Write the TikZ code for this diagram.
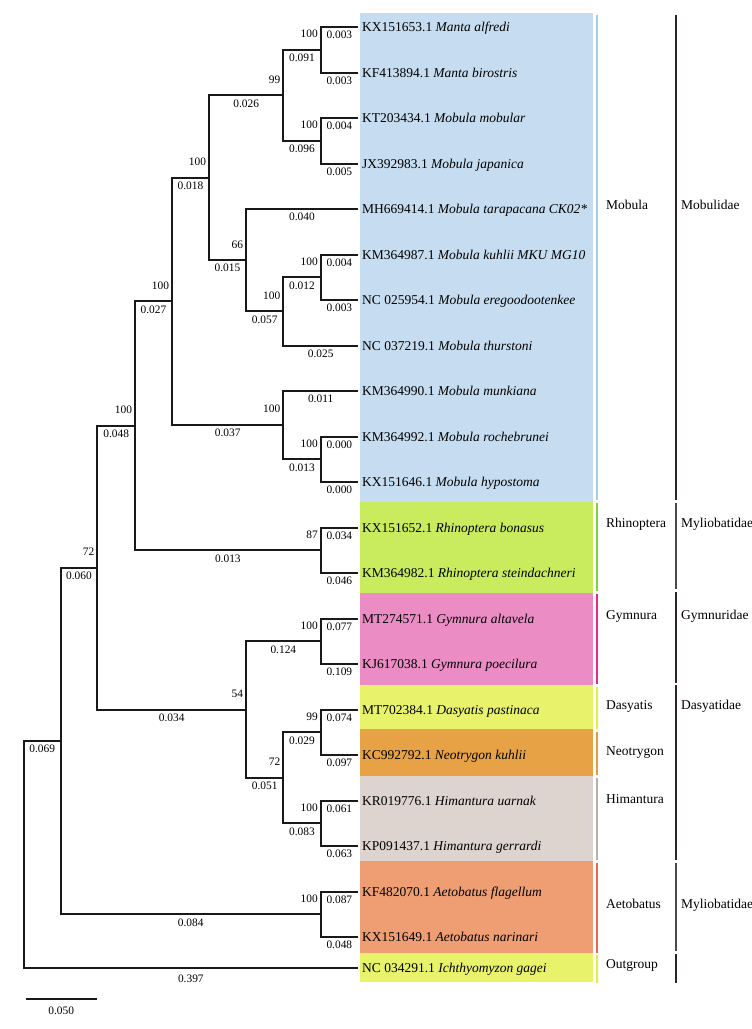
\documentclass[tikz,border=0pt]{standalone}
\usepackage{fontspec}
\setmainfont{Liberation Serif}
\newfontfamily\treefont{Liberation Serif}
\usepackage{tikz}

\definecolor{mobbg}{HTML}{C6DCF0}
\definecolor{mobbar}{HTML}{A8CCEE}
\definecolor{rhibg}{HTML}{C8EC5E}
\definecolor{rhibar}{HTML}{7ED23A}
\definecolor{gymbg}{HTML}{EB8DC4}
\definecolor{gymbar}{HTML}{E8288A}
\definecolor{dasbg}{HTML}{E8F26A}
\definecolor{dasbar}{HTML}{E0F040}
\definecolor{neobg}{HTML}{E8A246}
\definecolor{neobar}{HTML}{E89A40}
\definecolor{himbg}{HTML}{DDD3CF}
\definecolor{himbar}{HTML}{B8B0AC}
\definecolor{aetbg}{HTML}{EE9E72}
\definecolor{aetbar}{HTML}{EE6650}
\definecolor{famline}{HTML}{2E2626}

\tikzset{
  branch/.style={line width=2pt, draw=black!90},
  taxon/.style={anchor=base west, inner sep=0pt, xshift=4pt, yshift=-4.6pt,
    font=\treefont\fontsize{13.5}{14}\selectfont},
  group/.style={anchor=base west, inner sep=0pt, yshift=-4.6pt,
    font=\treefont\fontsize{13.5}{14}\selectfont},
  boot/.style={anchor=south east, inner sep=0pt, xshift=-2pt, yshift=11pt,
    font=\treefont\fontsize{11.4}{12}\selectfont},
  blen/.style={anchor=north, inner sep=0pt, yshift=-3.2pt,
    font=\treefont\fontsize{11.4}{12}\selectfont},
}

\begin{document}
\begin{tikzpicture}[x=1pt, y=-1pt]
\useasboundingbox (0,0) rectangle (752,1029);

% coloured blocks behind the taxa
\fill[mobbg] (360,13) rectangle (593,502);
\fill[rhibg] (360,502) rectangle (593,593);
\fill[gymbg] (360,593) rectangle (593,685);
\fill[dasbg] (360,685) rectangle (593,729);
\fill[neobg] (360,729) rectangle (593,776);
\fill[himbg] (360,776) rectangle (593,861);
\fill[aetbg] (360,861) rectangle (593,953);
\fill[dasbg] (360,953) rectangle (593,982);

% genus bars
\draw[mobbar, line width=2pt] (597,15) -- (597,500);
\draw[rhibar, line width=2pt] (597,503) -- (597,591);
\draw[gymbar, line width=2pt] (597,594) -- (597,684);
\draw[dasbar, line width=2pt] (597,687) -- (597,729);
\draw[neobar, line width=2pt] (597,732) -- (597,775);
\draw[himbar, line width=2pt] (597,778) -- (597,860);
\draw[aetbar, line width=2pt] (597,863) -- (597,953);
\draw[dasbar, line width=2pt] (597,955) -- (597,983);

% family bars
\draw[famline, line width=2.5pt] (676,15) -- (676,500);
\draw[famline!85, line width=2.5pt] (676,503) -- (676,589);
\draw[famline, line width=2.5pt] (676,592) -- (676,683);
\draw[famline, line width=2.5pt] (676,685) -- (676,860);
\draw[famline!85, line width=2.5pt] (676,863) -- (676,951);
\draw[famline, line width=2.5pt] (676,954) -- (676,983);

% genus and family names
\node[group] (gMob) at (606,205) {Mobula};
\node[group] (gRhi) at (606,523) {Rhinoptera};
\node[group] (gGym) at (606,615) {Gymnura};
\node[group] (gDas) at (606,705) {Dasyatis};
\node[group] (gNeo) at (606,751) {Neotrygon};
\node[group] (gHim) at (606,799) {Himantura};
\node[group] (gAet) at (606,904) {Aetobatus};
\node[group] (gOut) at (606,964) {Outgroup};
\node[group] (fMob) at (681,205) {Mobulidae};
\node[group] (fMyl) at (681,523) {Myliobatidae};
\node[group] (fGym) at (681,615) {Gymnuridae};
\node[group] (fDas) at (681,705) {Dasyatidae};
\node[group] (fMyl2) at (681,904) {Myliobatidae};

% tips
\coordinate (l1) at (358,27);
\coordinate (l2) at (358,72.5);
\coordinate (l3) at (358,118);
\coordinate (l4) at (358,163.5);
\coordinate (l5) at (358,209);
\coordinate (l6) at (358,254.5);
\coordinate (l7) at (358,300);
\coordinate (l8) at (358,345.5);
\coordinate (l9) at (358,391);
\coordinate (l10) at (358,436.5);
\coordinate (l11) at (358,482);
\coordinate (l12) at (358,527.5);
\coordinate (l13) at (358,573);
\coordinate (l14) at (358,618.5);
\coordinate (l15) at (358,664);
\coordinate (l16) at (358,709.5);
\coordinate (l17) at (358,755);
\coordinate (l18) at (358,800.5);
\coordinate (l19) at (358,846);
\coordinate (l20) at (358,891.5);
\coordinate (l21) at (358,937);
\coordinate (l22) at (358,967.5);

% internal nodes
\coordinate (mantas) at (320.7,49.75);
\coordinate (mobjap) at (320.7,140.75);
\coordinate (mantamob) at (283.3,95.25);
\coordinate (kuhlii) at (320.7,277.25);
\coordinate (thurst) at (283.3,311.4);
\coordinate (tarap) at (246,260.2);
\coordinate (mobA) at (209,177.7);
\coordinate (hypo) at (320.7,459.25);
\coordinate (munk) at (283.3,425.1);
\coordinate (mobula) at (172,301.4);
\coordinate (rhino) at (320.7,550.25);
\coordinate (mobrhi) at (135,425.8);
\coordinate (gymn) at (320.7,641.25);
\coordinate (dasneo) at (320.7,732.25);
\coordinate (himan) at (320.7,823.25);
\coordinate (dasyat) at (283.3,777.75);
\coordinate (gymdas) at (246,709.5);
\coordinate (batoid) at (97.3,567.65);
\coordinate (aeto) at (320.7,914.25);
\coordinate (ingroup) at (60.7,740.95);
\coordinate (root) at (23.7,854.2);

% taxon names
\node[taxon] (t1) at (l1) {KX151653.1 \textit{Manta alfredi}};
\node[taxon] (t2) at (l2) {KF413894.1 \textit{Manta birostris}};
\node[taxon] (t3) at (l3) {KT203434.1 \textit{Mobula mobular}};
\node[taxon] (t4) at (l4) {JX392983.1 \textit{Mobula japanica}};
\node[taxon] (t5) at (l5) {MH669414.1 \textit{Mobula tarapacana CK02*}};
\node[taxon] (t6) at (l6) {KM364987.1 \textit{Mobula kuhlii MKU MG10}};
\node[taxon] (t7) at (l7) {NC 025954.1 \textit{Mobula eregoodootenkee}};
\node[taxon] (t8) at (l8) {NC 037219.1 \textit{Mobula thurstoni}};
\node[taxon] (t9) at (l9) {KM364990.1 \textit{Mobula munkiana}};
\node[taxon] (t10) at (l10) {KM364992.1 \textit{Mobula rochebrunei}};
\node[taxon] (t11) at (l11) {KX151646.1 \textit{Mobula hypostoma}};
\node[taxon] (t12) at (l12) {KX151652.1 \textit{Rhinoptera bonasus}};
\node[taxon] (t13) at (l13) {KM364982.1 \textit{Rhinoptera steindachneri}};
\node[taxon] (t14) at (l14) {MT274571.1 \textit{Gymnura altavela}};
\node[taxon] (t15) at (l15) {KJ617038.1 \textit{Gymnura poecilura}};
\node[taxon] (t16) at (l16) {MT702384.1 \textit{Dasyatis pastinaca}};
\node[taxon] (t17) at (l17) {KC992792.1 \textit{Neotrygon kuhlii}};
\node[taxon] (t18) at (l18) {KR019776.1 \textit{Himantura uarnak}};
\node[taxon] (t19) at (l19) {KP091437.1 \textit{Himantura gerrardi}};
\node[taxon] (t20) at (l20) {KF482070.1 \textit{Aetobatus flagellum}};
\node[taxon] (t21) at (l21) {KX151649.1 \textit{Aetobatus narinari}};
\node[taxon] (t22) at (l22) {NC 034291.1 \textit{Ichthyomyzon gagei}};

% branches: bootstrap above, length below
\draw[branch] (mantas) |- (l1) node[pos=.75, blen] {0.003};
\draw[branch] (mantas) |- (l2) node[pos=.75, blen] {0.003};
\draw[branch] (mobjap) |- (l3) node[pos=.75, blen] {0.004};
\draw[branch] (mobjap) |- (l4) node[pos=.75, blen] {0.005};
\draw[branch] (mantamob) |- (mantas)
  node[pos=.75, blen] {0.091} node[pos=1, boot] {100};
\draw[branch] (mantamob) |- (mobjap)
  node[pos=.75, blen] {0.096} node[pos=1, boot] {100};
\draw[branch] (kuhlii) |- (l6) node[pos=.75, blen] {0.004};
\draw[branch] (kuhlii) |- (l7) node[pos=.75, blen] {0.003};
\draw[branch] (thurst) |- (kuhlii)
  node[pos=.75, blen] {0.012} node[pos=1, boot] {100};
\draw[branch] (thurst) |- (l8) node[pos=.75, blen] {0.025};
\draw[branch] (tarap) |- (l5) node[pos=.75, blen] {0.040};
\draw[branch] (tarap) |- (thurst)
  node[pos=.75, blen] {0.057} node[pos=1, boot] {100};
\draw[branch] (mobA) |- (mantamob)
  node[pos=.75, blen] {0.026} node[pos=1, boot] {99};
\draw[branch] (mobA) |- (tarap)
  node[pos=.75, blen] {0.015} node[pos=1, boot] {66};
\draw[branch] (hypo) |- (l10) node[pos=.75, blen] {0.000};
\draw[branch] (hypo) |- (l11) node[pos=.75, blen] {0.000};
\draw[branch] (munk) |- (l9) node[pos=.75, blen] {0.011};
\draw[branch] (munk) |- (hypo)
  node[pos=.75, blen] {0.013} node[pos=1, boot] {100};
\draw[branch] (mobula) |- (mobA)
  node[pos=.75, blen] {0.018} node[pos=1, boot] {100};
\draw[branch] (mobula) |- (munk)
  node[pos=.75, blen] {0.037} node[pos=1, boot] {100};
\draw[branch] (rhino) |- (l12) node[pos=.75, blen] {0.034};
\draw[branch] (rhino) |- (l13) node[pos=.75, blen] {0.046};
\draw[branch] (mobrhi) |- (mobula)
  node[pos=.75, blen] {0.027} node[pos=1, boot] {100};
\draw[branch] (mobrhi) |- (rhino)
  node[pos=.75, blen] {0.013} node[pos=1, boot] {87};
\draw[branch] (gymn) |- (l14) node[pos=.75, blen] {0.077};
\draw[branch] (gymn) |- (l15) node[pos=.75, blen] {0.109};
\draw[branch] (dasneo) |- (l16) node[pos=.75, blen] {0.074};
\draw[branch] (dasneo) |- (l17) node[pos=.75, blen] {0.097};
\draw[branch] (himan) |- (l18) node[pos=.75, blen] {0.061};
\draw[branch] (himan) |- (l19) node[pos=.75, blen] {0.063};
\draw[branch] (dasyat) |- (dasneo)
  node[pos=.75, blen] {0.029} node[pos=1, boot] {99};
\draw[branch] (dasyat) |- (himan)
  node[pos=.75, blen] {0.083} node[pos=1, boot] {100};
\draw[branch] (gymdas) |- (gymn)
  node[pos=.75, blen] {0.124} node[pos=1, boot] {100};
\draw[branch] (gymdas) |- (dasyat)
  node[pos=.75, blen] {0.051} node[pos=1, boot] {72};
\draw[branch] (batoid) |- (mobrhi)
  node[pos=.75, blen] {0.048} node[pos=1, boot] {100};
\draw[branch] (batoid) |- (gymdas)
  node[pos=.75, blen] {0.034} node[pos=1, boot] {54};
\draw[branch] (aeto) |- (l20) node[pos=.75, blen] {0.087};
\draw[branch] (aeto) |- (l21) node[pos=.75, blen] {0.048};
\draw[branch] (ingroup) |- (batoid)
  node[pos=.75, blen] {0.060} node[pos=1, boot] {72};
\draw[branch] (ingroup) |- (aeto)
  node[pos=.75, blen] {0.084} node[pos=1, boot] {100};
\draw[branch] (root) |- (ingroup) node[pos=.75, blen] {0.069};
\draw[branch] (root) |- (l22) node[pos=.75, blen, yshift=-3pt] {0.397};

% scale bar
\coordinate (sbL) at (25.7,999.3);
\coordinate (sbR) at (96.7,999.3);
\draw[branch] (sbL) -- (sbR) node[midway, blen, yshift=-3pt] {0.050};
\end{tikzpicture}
\end{document}
